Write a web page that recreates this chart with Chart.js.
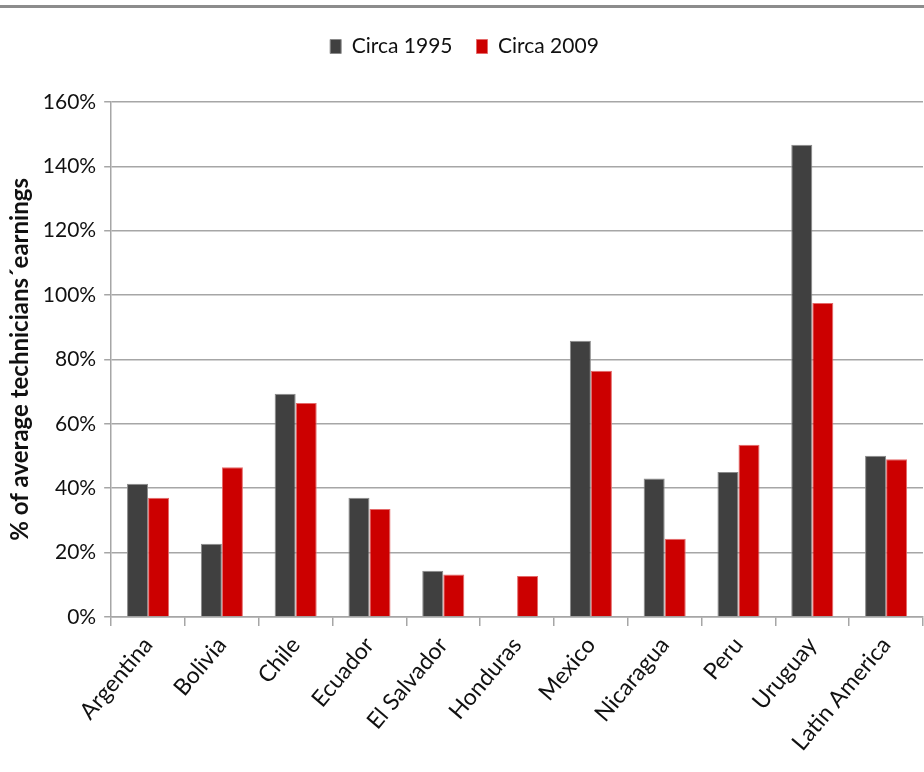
<!DOCTYPE html>
<html lang="en">
<head>
    <meta charset="UTF-8">
    <title>Technicians earnings</title>
    <script src="https://cdn.jsdelivr.net/npm/chart.js"></script>
    <style>
        body { margin: 0; background: #fff; }
        #wrap { position: relative; width: 924px; height: 772px; }
        #frame { position: absolute; left: 0; top: 5px; width: 924px; height: 3px; background: #8c8c8c; }
    </style>
</head>
<body>
    <div id="wrap">
        <div id="frame"></div>
        <canvas id="myChart" width="924" height="772"></canvas>
    </div>

    <script>
        // values (share of average technicians' earnings, %)
        var countries = ['Argentina', 'Bolivia', 'Chile', 'Ecuador', 'El Salvador', 'Honduras',
                         'Mexico', 'Nicaragua', 'Peru', 'Uruguay', 'Latin America'];
        var circa1995 = [41.4, 22.7, 69.3, 37.0, 14.3, null, 85.8, 43.0, 45.0, 146.7, 50.1];
        var circa2009 = [37.0, 46.5, 66.5, 33.5, 13.2, 12.7, 76.5, 24.3, 53.5, 97.5, 49.0];
        var yTicks = [0, 20, 40, 60, 80, 100, 120, 140, 160];

        var font = 'Lato';
        var gridGray = '#a6a6a6';

        var data = {
            labels: countries,
            datasets: [{
                label: 'Circa 1995',
                data: circa1995,
                backgroundColor: '#404040',
                borderColor: '#8a8a8a',
                borderWidth: 1
            }, {
                label: 'Circa 2009',
                data: circa2009,
                backgroundColor: '#cc0000',
                borderColor: '#e46a6a',
                borderWidth: 1
            }]
        };

        // push the plot down below the legend
        var legendSpace = {
            id: 'legendSpace',
            beforeInit: function (chart) {
                var fit = chart.legend.fit;
                chart.legend.fit = function () {
                    fit.bind(chart.legend)();
                    this.height += 35;
                };
            }
        };

        var options = {
            responsive: false,
            animation: false,
            layout: { padding: { top: 12, left: 6, right: 1, bottom: 10 } },
            datasets: {
                bar: { categoryPercentage: 0.57, barPercentage: 1.0 }
            },
            plugins: {
                tooltip: { enabled: false },
                legend: {
                    position: 'top',
                    labels: {
                        font: { family: font, size: 21 },
                        color: '#111',
                        boxWidth: 11,
                        boxHeight: 14,
                        padding: 24
                    }
                }
            },
            scales: {
                x: {
                    offset: true,
                    grid: {
                        offset: true,
                        drawOnChartArea: false,
                        drawTicks: true,
                        tickLength: 9,
                        color: gridGray,
                        lineWidth: 1.5
                    },
                    border: { color: gridGray, width: 1.5 },
                    ticks: {
                        autoSkip: false,
                        maxRotation: 50,
                        minRotation: 50,
                        color: '#111',
                        padding: 6,
                        font: { family: font, size: 23 }
                    }
                },
                y: {
                    min: 0,
                    max: 160,
                    afterBuildTicks: function (axis) {
                        axis.ticks = yTicks.map(function (v) { return { value: v }; });
                    },
                    grid: {
                        color: gridGray,
                        lineWidth: 1.5,
                        tickLength: 7
                    },
                    border: { color: gridGray, width: 1.5 },
                    ticks: {
                        color: '#111',
                        padding: 8,
                        font: { family: font, size: 21 },
                        callback: function (v) { return v + '%'; }
                    },
                    title: {
                        display: true,
                        text: '% of average technicians\u00b4earnings',
                        color: '#111',
                        font: { family: font, size: 24, weight: 'bold' },
                        padding: { top: 0, bottom: 0 }
                    }
                }
            }
        };

        var ctx = document.getElementById('myChart').getContext('2d');
        var myChart = new Chart(ctx, {
            type: 'bar',
            data: data,
            options: options,
            plugins: [legendSpace]
        });
    </script>
</body>
</html>
